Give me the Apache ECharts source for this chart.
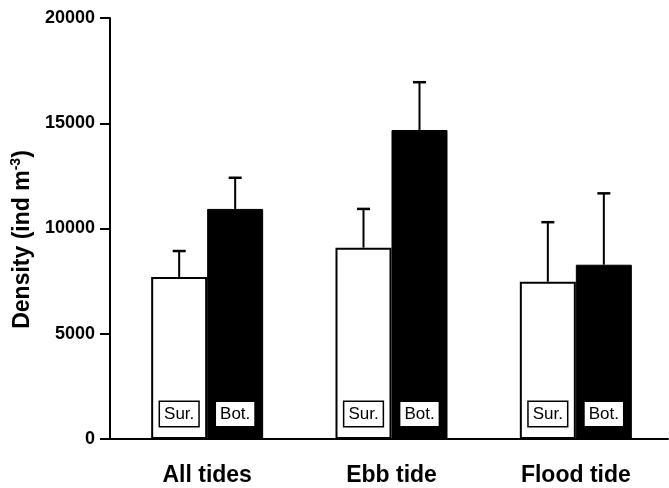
<!DOCTYPE html>
<html>
<head>
<meta charset="utf-8">
<script src="https://cdn.jsdelivr.net/npm/echarts@6/dist/echarts.min.js"></script>
<style>
  html, body { margin: 0; padding: 0; background: #fff; }
  #chart { width: 669px; height: 488px; }
</style>
</head>
<body>
<div id="chart"></div>
<script>
// ---- data ----
const categories = ['All tides', 'Ebb tide', 'Flood tide'];
const surMean = [7700, 9090, 7470];     // surface density
const surErr  = [1230, 1840, 2830];     // error bar length (surface)
const botMean = [10930, 14680, 8280];   // bottom density
const botErr  = [1480, 2270, 3390];     // error bar length (bottom)
const pLabels = ['p < 0.001', 'p < 0.01', 'p > 0.05'];
const yMin = 0, yMax = 20000, yStep = 5000;

// ---- layout constants ----
const FONT = "'Liberation Sans', Arial, Helvetica, sans-serif";
const BAR_W = 56;
const pLabelY = [18240, 17910, 18240];  // vertical placement of p-value texts

const chart = echarts.init(document.getElementById('chart'), null, { renderer: 'canvas' });

function errorRender(offset) {
  return function (params, api) {
    const i = api.value(0), m = api.value(1), e = api.value(2);
    const p0 = api.coord([i, m]);
    const p1 = api.coord([i, m + e]);
    const x = p0[0] + offset;
    return {
      type: 'group',
      children: [
        { type: 'line', shape: { x1: x, y1: p0[1], x2: x, y2: p1[1] }, style: { stroke: '#000', lineWidth: 2 } },
        { type: 'line', shape: { x1: x - 6.5, y1: p1[1], x2: x + 6.5, y2: p1[1] }, style: { stroke: '#000', lineWidth: 2.5 } }
      ]
    };
  };
}

const boxLabel = (text, withBorder) => ({
  show: true,
  position: 'insideBottom',
  distance: 13,
  formatter: text,
  color: '#000',
  fontFamily: FONT,
  fontSize: 17,
  backgroundColor: '#fff',
  borderColor: withBorder ? '#000' : '#fff',
  borderWidth: withBorder ? 1.5 : 0,
  padding: [4, 4, 3, 4]
});

const option = {
  animation: false,
  backgroundColor: '#fff',
  grid: { left: 115, right: 1, top: 18, bottom: 49, containLabel: false },
  xAxis: {
    type: 'category',
    data: categories,
    axisLine: { lineStyle: { color: '#000', width: 2 } },
    axisTick: { alignWithLabel: true, length: 9, lineStyle: { color: '#000', width: 2 } },
    axisLabel: { color: '#000', fontFamily: FONT, fontWeight: 'bold', fontSize: 23, margin: 25 },
    splitLine: { show: false }
  },
  yAxis: {
    type: 'value',
    min: yMin, max: yMax, interval: yStep,
    offset: 5,
    name: 'Density (ind m{sup|-3})',
    nameLocation: 'middle',
    nameGap: 73,
    nameRotate: 90,
    nameTextStyle: {
      color: '#000', fontFamily: FONT, fontWeight: 'bold', fontSize: 23,
      padding: [0, 22, 0, 0],
      rich: { sup: { fontFamily: FONT, fontWeight: 'bold', fontSize: 14, verticalAlign: 'top', padding: [0, 0, 12, 0], color: '#000' } }
    },
    axisLine: { show: true, lineStyle: { color: '#000', width: 2 } },
    axisTick: { show: true, length: 10, lineStyle: { color: '#000', width: 2 } },
    axisLabel: { color: '#000', fontFamily: FONT, fontWeight: 'bold', fontSize: 18, margin: 15, formatter: (v) => String(v) },
    splitLine: { show: false }
  },
  series: [
    {
      name: 'Sur.', type: 'bar', data: surMean, barWidth: BAR_W, barGap: '0%',
      itemStyle: { color: '#fff', borderColor: '#000', borderWidth: 2 },
      label: boxLabel('Sur.', true), z: 2
    },
    {
      name: 'Bot.', type: 'bar', data: botMean, barWidth: BAR_W, barGap: '0%',
      itemStyle: { color: '#000', borderColor: '#000', borderWidth: 1 },
      label: boxLabel('Bot.', false), z: 2
    },
    {
      name: 'Sur. err', type: 'custom', renderItem: errorRender(-BAR_W / 2),
      data: categories.map((c, i) => [i, surMean[i], surErr[i]]), z: 3, silent: true
    },
    {
      name: 'Bot. err', type: 'custom', renderItem: errorRender(BAR_W / 2),
      data: categories.map((c, i) => [i, botMean[i], botErr[i]]), z: 3, silent: true
    },
    {
      name: 'p', type: 'scatter', symbolSize: 1, itemStyle: { opacity: 0 }, silent: true,
      data: categories.map((c, i) => [i, pLabelY[i]]),
      label: {
        show: true, position: 'inside',
        formatter: (p) => pLabels[p.dataIndex],
        color: '#000', fontFamily: FONT, fontWeight: 'bold', fontSize: 17
      }
    }
  ]
};

chart.setOption(option);

// extend the baseline to the (offset) y-axis line
const y0 = chart.convertToPixel({ yAxisIndex: 0 }, 0);
chart.setOption({
  graphic: [{
    type: 'line', z: 100,
    shape: { x1: 115 - 6, y1: y0, x2: 116, y2: y0 },
    style: { stroke: '#000', lineWidth: 2 }
  }]
});
</script>
</body>
</html>
